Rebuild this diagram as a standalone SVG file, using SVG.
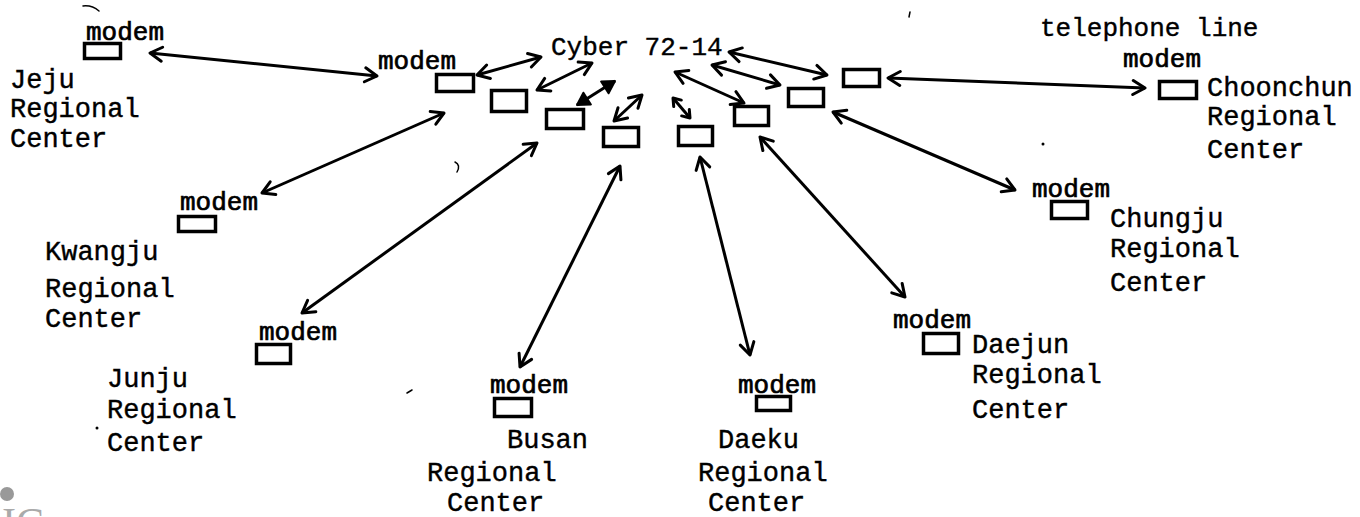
<svg xmlns="http://www.w3.org/2000/svg" width="1360" height="517" viewBox="0 0 1360 517">
<style>
text{font-family:"Liberation Mono","DejaVu Sans Mono",monospace;font-size:27px;fill:#000;stroke:#000;stroke-width:0.4}
.modem{fill:#fff;stroke:#000;stroke-width:3.5}
.lbl{font-size:26px;stroke-width:0.7}
.conn line{stroke:#000;stroke-width:3;fill:none;marker-start:url(#ah);marker-end:url(#ah)}
.conn line.heavy{marker-start:url(#ahf);marker-end:url(#ahf)}
.conn line.short{marker-start:url(#ahs);marker-end:url(#ahs)}
.mark{fill:none;stroke:#000;stroke-width:1.5;stroke-linecap:round}
</style>
<defs>
<marker id="ah" viewBox="-16 -10 18 20" refX="0" refY="0" markerWidth="18" markerHeight="20" markerUnits="userSpaceOnUse" orient="auto-start-reverse">
<path d="M-12,-7 L0,0 L-12,7" fill="none" stroke="#000" stroke-width="3" stroke-linecap="round" stroke-linejoin="round"/>
</marker>
<marker id="ahs" viewBox="-10 -7 12 14" refX="0" refY="0" markerWidth="12" markerHeight="14" markerUnits="userSpaceOnUse" orient="auto-start-reverse">
<path d="M-7,-5 L0,0 L-7,5" fill="none" stroke="#000" stroke-width="3" stroke-linecap="round" stroke-linejoin="round"/>
</marker>
<marker id="ahf" viewBox="-16 -10 18 20" refX="0" refY="0" markerWidth="18" markerHeight="20" markerUnits="userSpaceOnUse" orient="auto-start-reverse">
<path d="M-12,-7 L0,0 L-12,7 Z" fill="#000" stroke="#000" stroke-width="2" stroke-linejoin="round"/>
</marker>
</defs>
<rect width="1360" height="517" fill="#fff"/>

<g id="host">
<text x="551" y="55" style="font-size:26px">Cyber 72-14</text>
<text x="1040" y="36" style="font-size:26px">telephone line</text>
</g>

<g id="central-modems">
<text class="lbl" x="378" y="69">modem</text>
<rect class="modem" x="436.5" y="74.5" width="37" height="17"/>
<rect class="modem" x="491.5" y="90.5" width="35" height="21"/>
<rect class="modem" x="546.5" y="109.5" width="37" height="19"/>
<rect class="modem" x="603.5" y="127.5" width="35" height="19"/>
<rect class="modem" x="678.5" y="126.5" width="34" height="19"/>
<rect class="modem" x="734.5" y="106.5" width="34" height="19"/>
<rect class="modem" x="788.5" y="88.5" width="35" height="18"/>
<rect class="modem" x="843.5" y="69.5" width="36" height="17"/>
</g>

<g id="jeju">
<text class="lbl" x="86" y="40">modem</text>
<rect class="modem" x="84.5" y="43.5" width="36" height="15"/>
<text x="10" y="88">Jeju</text>
<text x="10" y="117">Regional</text>
<text x="10" y="147">Center</text>
</g>

<g id="kwangju">
<text class="lbl" x="180" y="210">modem</text>
<rect class="modem" x="178.5" y="216.5" width="37" height="15"/>
<text x="45" y="260">Kwangju</text>
<text x="45" y="297">Regional</text>
<text x="45" y="327">Center</text>
</g>

<g id="junju">
<text class="lbl" x="259" y="340">modem</text>
<rect class="modem" x="256.5" y="344.5" width="34" height="19"/>
<text x="107" y="387">Junju</text>
<text x="107" y="418">Regional</text>
<text x="107" y="451">Center</text>
</g>

<g id="busan">
<text class="lbl" x="490" y="393">modem</text>
<rect class="modem" x="494.5" y="398.5" width="37" height="18"/>
<text x="507" y="448">Busan</text>
<text x="427" y="481">Regional</text>
<text x="447" y="511">Center</text>
</g>

<g id="daeku">
<text class="lbl" x="738" y="393">modem</text>
<rect class="modem" x="756.5" y="396.5" width="34" height="14"/>
<text x="718" y="448">Daeku</text>
<text x="698" y="481">Regional</text>
<text x="708" y="511">Center</text>
</g>

<g id="daejun">
<text class="lbl" x="893" y="328">modem</text>
<rect class="modem" x="923.5" y="333.5" width="35" height="20"/>
<text x="972" y="353">Daejun</text>
<text x="972" y="383">Regional</text>
<text x="972" y="418">Center</text>
</g>

<g id="chungju">
<text class="lbl" x="1032" y="197">modem</text>
<rect class="modem" x="1051.5" y="201.5" width="36" height="17"/>
<text x="1110" y="227">Chungju</text>
<text x="1110" y="257">Regional</text>
<text x="1110" y="291">Center</text>
</g>

<g id="choonchun">
<text class="lbl" x="1123" y="67">modem</text>
<rect class="modem" x="1159.5" y="81.5" width="37" height="17"/>
<text x="1207" y="96">Choonchun</text>
<text x="1207" y="125">Regional</text>
<text x="1207" y="158">Center</text>
</g>

<g id="connectors" class="conn">
<line x1="477" y1="75" x2="541" y2="57"/>
<line x1="537" y1="90" x2="592" y2="63"/>
<line class="heavy" x1="577" y1="105" x2="615" y2="81"/>
<line x1="614" y1="121" x2="642" y2="95"/>
<line class="short" x1="673" y1="98" x2="690" y2="118"/>
<line x1="675" y1="72" x2="744" y2="103"/>
<line x1="712" y1="65" x2="780" y2="85"/>
<line x1="729" y1="52" x2="827" y2="75"/>
<line x1="150" y1="53" x2="377" y2="76"/>
<line x1="444" y1="113" x2="262" y2="193"/>
<line x1="537" y1="143" x2="302" y2="313"/>
<line x1="620" y1="166" x2="520" y2="367"/>
<line x1="700" y1="157" x2="750" y2="355"/>
<line x1="760" y1="137" x2="905" y2="297"/>
<line x1="833" y1="112" x2="1015" y2="190"/>
<line x1="888" y1="78" x2="1145" y2="88"/>
</g>

<g id="marks">
<path class="mark" d="M83,6 Q92,5 99,11"/>
<path class="mark" d="M910,12 L909,17"/>
<circle cx="1043" cy="144" r="1.5" fill="#000"/>
<path class="mark" d="M455,162 Q461,165 457,172"/>
<path class="mark" d="M407,393 L412,390"/>
<circle cx="97" cy="428" r="1.5" fill="#000"/>
</g>

<g id="logo" fill="#999">
<circle cx="7" cy="494" r="7"/>
<text x="2" y="537" style="font-family:'Liberation Serif',serif;font-size:42px;fill:#aaa;stroke:none">IC</text>
</g>
</svg>
